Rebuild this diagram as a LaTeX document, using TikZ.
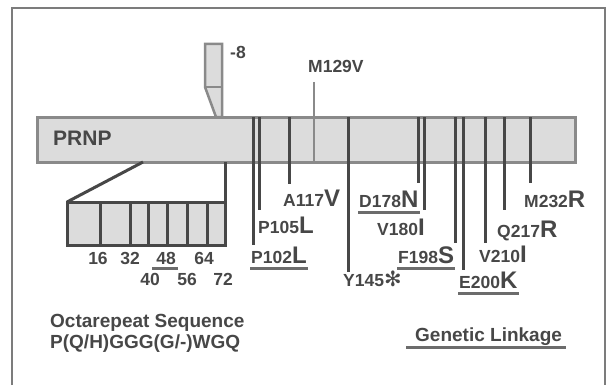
\documentclass[tikz,border=0pt]{standalone}
\usepackage{fontspec}
\setmainfont{Liberation Sans}
\newfontfamily\symfont{DejaVu Sans}
\usepackage{xcolor}
\usetikzlibrary{calc,positioning}

\definecolor{ink}{HTML}{474747}
\definecolor{barfill}{HTML}{DCDCDC}
\definecolor{barline}{HTML}{8A8A8A}
\newcommand{\resid}[1]{{\fontsize{24}{24}\selectfont #1}}

\begin{document}
\begin{tikzpicture}[x=1pt, y=-1pt,
      lab/.style={font=\bfseries\fontsize{17.5}{17.5}\selectfont, text=ink, inner sep=0pt, anchor=base west},
      num/.style={lab, anchor=base},
      head/.style={lab, font=\bfseries\fontsize{19}{19}\selectfont},
      mut/.style={draw=ink, line width=3pt},
      rep/.style={draw=ink, line width=3pt},
      link/.style={draw=ink!80, line width=3pt},
      frame/.style={draw=barline!90!black, line width=2pt}]
    \useasboundingbox (0,0) rectangle (609,385);
    \draw[frame] (12,385) |- (605,8) -- (605,385);
    % signal peptide
    \draw[draw=barline, fill=barfill, line width=2.5pt] (205,44) -- (222,44) -- (222,117) -- (216,117) -- (205,87) -- cycle;
    \draw[draw=barline, line width=2.5pt] (205,87) -- (222,87);
    \node[lab] (sig) at (230,59) {-8};
    % gene bar
    \node[draw=barline, fill=barfill, line width=3pt, minimum width=538, minimum height=45, anchor=north west, inner sep=0pt, outer sep=0pt] (prnp) at (37,117) {};
    \node[lab, font=\bfseries\fontsize{21}{21}\selectfont] (name) at (53,145) {PRNP};
    \node[lab] (m129) at (308,73) {M129V};
    \coordinate (m129e) at (314,82);
    \draw[draw=barline, line width=2.5pt] (m129e) -- (m129e |- prnp.south);
    % octarepeats
    \node[draw=ink, fill=barfill, line width=3pt, minimum width=158, minimum height=43, anchor=north west, inner sep=0pt, outer sep=0pt] (octa) at (67,202) {};
    \coordinate (repL) at (143,162); \coordinate (repR) at (225,162);
    \draw[rep] (octa.north west) -- (repL); \draw[rep] (octa.north east) -- (repR);
    \foreach \x in {100,130,148,167,187,207}
      \draw[rep] (\x,0 |- octa.north) -- (\x,0 |- octa.south);
    \foreach \n/\x in {16/98,32/130,48/166,64/204}
      \node[num] (n\n) at (\x,264) {\n};
    \foreach \n/\x in {40/150,56/187,72/223}
      \node[num] (n\n) at (\x,285) {\n};
    \draw[link] ($(n48.base west)+(-4,4)$) -- ($(n48.base east)+(2,4)$);
    \node[head] (octname) at (50,327) {Octarepeat Sequence};
    \node[head] (octseq) at (50,348) {P(Q/H)GGG(G/-)WGQ};
    % mutations
    \node[lab] (p102) at (251,263) {P102\resid{L}};
    \node[lab] (p105) at (258,233) {P105\resid{L}};
    \node[lab] (a117) at (283,206) {A117\resid{V}};
    \node[lab] (y145) at (343,286) {Y145{\symfont\fontsize{21}{21}\selectfont ✻}};
    \node[lab] (d178) at (359,207) {D178\resid{N}};
    \node[lab] (v180) at (377,235) {V180\resid{I}};
    \node[lab] (f198) at (398,263) {F198\resid{S}};
    \node[lab] (e200) at (459,288) {E200\resid{K}};
    \node[lab] (v210) at (479,262) {V210\resid{I}};
    \node[lab] (q217) at (497,237) {Q217\resid{R}};
    \node[lab] (m232) at (524,207) {M232\resid{R}};
    \coordinate (p102e) at (253,245); \coordinate (p105e) at (259,210);
    \coordinate (a117e) at (289,184); \coordinate (y145e) at (348,272);
    \coordinate (d178e) at (418,183); \coordinate (v180e) at (424,210);
    \coordinate (f198e) at (455,243); \coordinate (e200e) at (463,270);
    \coordinate (v210e) at (485,243); \coordinate (q217e) at (504,210);
    \coordinate (m232e) at (530,183);
    \foreach \m in {p102,p105,a117,y145,d178,v180,f198,e200,v210,q217,m232}
      \draw[mut] (\m e |- prnp.north) -- (\m e);
    % linkage
    \node[head] (gl) at (415,341) {Genetic Linkage};
    \foreach \m in {p102,d178,f198,e200}
      \draw[link] ($(\m.base west)+(-1,5)$) -- ($(\m.base east)+(1,5)$);
    \draw[link] ($(gl.base west)+(-9,6)$) -- ($(gl.base east)+(4,6)$);
  \end{tikzpicture}
\end{document}
